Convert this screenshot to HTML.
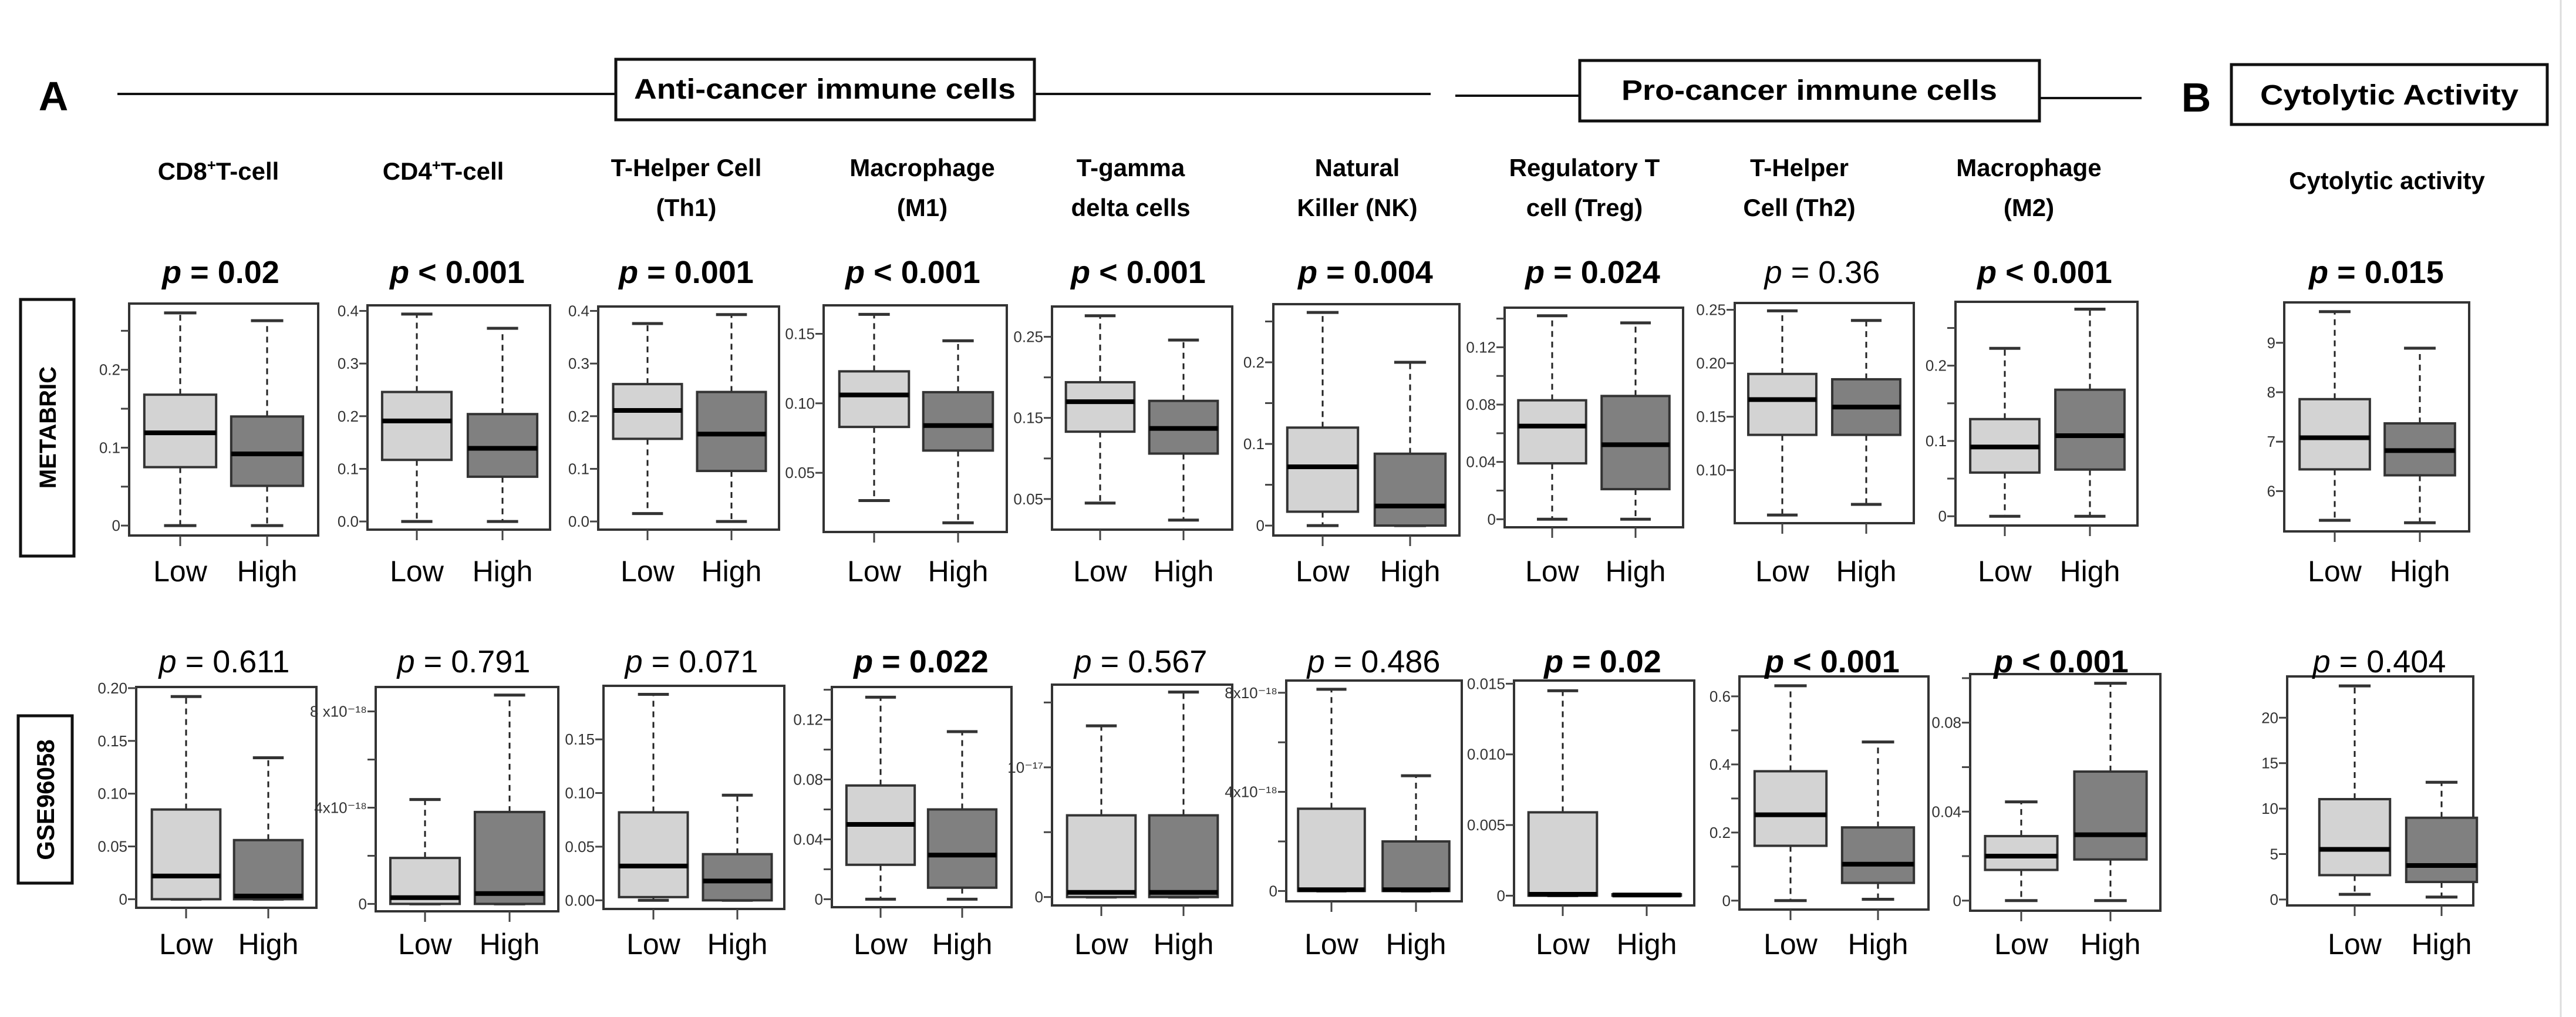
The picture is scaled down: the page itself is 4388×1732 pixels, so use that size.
<!DOCTYPE html>
<html>
<head>
<meta charset="utf-8">
<style>
  html, body { margin: 0; padding: 0; background: #fff; }
  svg { display: block; font-family: "Liberation Sans", sans-serif; }
</style>
</head>
<body>
<svg id="fig" width="4388" height="1732" viewBox="0 0 4388 1732" xmlns="http://www.w3.org/2000/svg">
  <rect x="0" y="0" width="4388" height="1732" fill="#fff"/>
  <line x1="4362" y1="0" x2="4362" y2="1732" stroke="#ddd" stroke-width="3"/>

  <text x="91" y="188" font-size="70" font-weight="bold" text-anchor="middle">A</text>
  <line x1="200" y1="160" x2="1049" y2="160" stroke="#111" stroke-width="4"/>
  <line x1="1762" y1="160" x2="2437" y2="160" stroke="#111" stroke-width="4"/>
  <rect x="1049" y="101" width="713" height="103" fill="#fff" stroke="#111" stroke-width="5"/>
  <text x="1405" y="168" font-size="48" font-weight="bold" text-anchor="middle" textLength="650" lengthAdjust="spacingAndGlyphs">Anti-cancer immune cells</text>

  <line x1="2479" y1="163" x2="2691" y2="163" stroke="#111" stroke-width="4"/>
  <line x1="3474" y1="167" x2="3648" y2="167" stroke="#111" stroke-width="4"/>
  <rect x="2691" y="103" width="783" height="103" fill="#fff" stroke="#111" stroke-width="5"/>
  <text x="3082" y="170" font-size="48" font-weight="bold" text-anchor="middle" textLength="640" lengthAdjust="spacingAndGlyphs">Pro-cancer immune cells</text>

  <text x="3741" y="190" font-size="70" font-weight="bold" text-anchor="middle">B</text>
  <rect x="3801" y="110" width="538" height="102" fill="#fff" stroke="#111" stroke-width="5"/>
  <text x="4070" y="178" font-size="48" font-weight="bold" text-anchor="middle" textLength="440" lengthAdjust="spacingAndGlyphs">Cytolytic Activity</text>

  <rect x="35" y="510" width="91" height="437" fill="#fff" stroke="#111" stroke-width="5"/>
  <text transform="translate(95,728) rotate(-90)" font-size="40" font-weight="bold" text-anchor="middle">METABRIC</text>
  <rect x="31" y="1219" width="92" height="285" fill="#fff" stroke="#111" stroke-width="5"/>
  <text transform="translate(92,1362) rotate(-90)" font-size="42" font-weight="bold" text-anchor="middle">GSE96058</text>

  <g id="headers"></g>
  <g id="charts"></g>
</svg>
<script>
// ---- data: column headers ----
const headerLine1 = ['CD8', 'CD4', 'T-Helper Cell', 'Macrophage', 'T-gamma', 'Natural', 'Regulatory T', 'T-Helper', 'Macrophage', 'Cytolytic activity'];
const headerLine2 = ['', '', '(Th1)', '(M1)', 'delta cells', 'Killer (NK)', 'cell (Treg)', 'Cell (Th2)', '(M2)', ''];

// ---- data: p-values ----
const metabricP = ['= 0.02', '< 0.001', '= 0.001', '< 0.001', '< 0.001', '= 0.004', '= 0.024', '= 0.36', '< 0.001', '= 0.015'];
const metabricPBold = [1, 1, 1, 1, 1, 1, 1, 0, 1, 1];
const gseP = ['= 0.611', '= 0.791', '= 0.071', '= 0.022', '= 0.567', '= 0.486', '= 0.02', '< 0.001', '< 0.001', '= 0.404'];
const gsePBold = [0, 0, 0, 1, 0, 0, 1, 1, 1, 0];

// ---- data: METABRIC five-number summaries [min, q1, median, q3, max] ----
const metabricLow = [
  [0, 0.075, 0.119, 0.168, 0.273],
  [0, 0.117, 0.191, 0.246, 0.394],
  [0.015, 0.157, 0.211, 0.261, 0.376],
  [0.030, 0.083, 0.106, 0.123, 0.164],
  [0.045, 0.133, 0.170, 0.194, 0.276],
  [0, 0.017, 0.072, 0.120, 0.261],
  [0, 0.039, 0.065, 0.083, 0.142],
  [0.058, 0.133, 0.166, 0.190, 0.249],
  [0, 0.058, 0.092, 0.129, 0.223],
  [5.41, 6.44, 7.08, 7.86, 9.63]
];
const metabricHigh = [
  [0, 0.051, 0.092, 0.140, 0.263],
  [0, 0.085, 0.139, 0.204, 0.367],
  [0, 0.096, 0.166, 0.246, 0.393],
  [0.014, 0.066, 0.084, 0.108, 0.145],
  [0.024, 0.106, 0.137, 0.171, 0.246],
  [0, 0, 0.024, 0.088, 0.200],
  [0, 0.021, 0.052, 0.086, 0.137],
  [0.068, 0.133, 0.159, 0.185, 0.240],
  [0, 0.062, 0.107, 0.168, 0.275],
  [5.36, 6.32, 6.82, 7.37, 8.89]
];

// ---- data: GSE96058 five-number summaries (CD4, T-gd, NK in units of 1e-18) ----
const gseLow = [
  [0, 0, 0.022, 0.085, 0.192],
  [0, 0, 0.26, 1.91, 4.34],
  [0, 0.003, 0.032, 0.082, 0.192],
  [0, 0.023, 0.050, 0.076, 0.135],
  [0, 0, 0.36, 6.3, 13.2],
  [0, 0, 0.05, 3.32, 8.14],
  [0, 0, 0.0001, 0.0059, 0.0145],
  [0, 0.161, 0.252, 0.380, 0.631],
  [0, 0.0138, 0.020, 0.029, 0.0444],
  [0.57, 2.68, 5.52, 11.04, 23.5]
];
const gseHigh = [
  [0, 0, 0.003, 0.056, 0.134],
  [0, 0, 0.43, 3.82, 8.68],
  [0, 0, 0.018, 0.043, 0.098],
  [0, 0.0077, 0.0295, 0.060, 0.112],
  [0, 0, 0.36, 6.3, 15.8],
  [0, 0, 0.05, 2.0, 4.65],
  [0, 0, 0.00005, 0.0001, 0.0001],
  [0.004, 0.052, 0.107, 0.215, 0.466],
  [0, 0.0185, 0.0296, 0.058, 0.0977],
  [0.27, 1.93, 3.74, 8.99, 12.9]
];

// ---- data: tick values and labels ----
const metabricTicks = [
  [0, 0.05, 0.1, 0.15, 0.2, 0.25],
  [0, 0.1, 0.2, 0.3, 0.4],
  [0, 0.1, 0.2, 0.3, 0.4],
  [0.05, 0.10, 0.15],
  [0.05, 0.1, 0.15, 0.2, 0.25],
  [0, 0.05, 0.1, 0.15, 0.2, 0.25],
  [0, 0.02, 0.04, 0.06, 0.08, 0.10, 0.12, 0.14],
  [0.10, 0.15, 0.20, 0.25],
  [0, 0.05, 0.1, 0.15, 0.2, 0.25],
  [6, 7, 8, 9]
];
const metabricTickLabels = [
  ['0', '', '0.1', '', '0.2', ''],
  ['0.0', '0.1', '0.2', '0.3', '0.4'],
  ['0.0', '0.1', '0.2', '0.3', '0.4'],
  ['0.05', '0.10', '0.15'],
  ['0.05', '', '0.15', '', '0.25'],
  ['0', '', '0.1', '', '0.2', ''],
  ['0', '', '0.04', '', '0.08', '', '0.12', ''],
  ['0.10', '0.15', '0.20', '0.25'],
  ['0', '', '0.1', '', '0.2', ''],
  ['6', '7', '8', '9']
];
const gseTicks = [
  [0, 0.05, 0.10, 0.15, 0.20],
  [0, 2, 4, 6, 8],
  [0, 0.05, 0.10, 0.15],
  [0, 0.02, 0.04, 0.06, 0.08, 0.10, 0.12, 0.14],
  [0, 5, 10, 15],
  [0, 2, 4, 6, 8],
  [0, 0.005, 0.010, 0.015],
  [0, 0.1, 0.2, 0.3, 0.4, 0.5, 0.6],
  [0, 0.02, 0.04, 0.06, 0.08, 0.10],
  [0, 5, 10, 15, 20]
];
const gseTickLabels = [
  ['0', '0.05', '0.10', '0.15', '0.20'],
  ['0', '', '4x10⁻¹⁸', '', '8 x10⁻¹⁸'],
  ['0.00', '0.05', '0.10', '0.15'],
  ['0', '', '0.04', '', '0.08', '', '0.12', ''],
  ['0', '', '10⁻¹⁷', ''],
  ['0', '', '4x10⁻¹⁸', '', '8x10⁻¹⁸'],
  ['0', '0.005', '0.010', '0.015'],
  ['0', '', '0.2', '', '0.4', '', '0.6'],
  ['0', '', '0.04', '', '0.08', ''],
  ['0', '5', '10', '15', '20']
];
const groupLabels = ['Low', 'High'];

// ---- layout (pixel geometry only) ----
const headerX = [372, 755, 1169, 1571, 1926, 2312, 2699, 3065, 3456, 4066];
const metabricPX = [376, 779, 1169, 1555, 1939, 2326, 2713, 3104, 3483, 4048];
const gsePX = [382, 790, 1178, 1569, 1943, 2340, 2730, 3121, 3511, 4053];
// frame [x0, x1, y0, y1], scale ref [v0, py0, v1, py1], centers [low, high]
const metabricLayout = [
  {f: [220, 542, 517, 912], s: [0, 895.1, 0.2, 629.7], c: [307, 455]},
  {f: [626, 937, 520, 902], s: [0, 888.1, 0.4, 529.5], c: [710, 856]},
  {f: [1019, 1327, 522, 902], s: [0, 888.1, 0.4, 529.5], c: [1103, 1246]},
  {f: [1403, 1715, 520, 906], s: [0.05, 805.2, 0.15, 568.5], c: [1489, 1632]},
  {f: [1792, 2099, 522, 902], s: [0.05, 849.8, 0.25, 573.6], c: [1874, 2016]},
  {f: [2169, 2486, 518, 912], s: [0, 895.1, 0.2, 617.0], c: [2253, 2402]},
  {f: [2563, 2867, 524, 898], s: [0, 884.3, 0.12, 591.4], c: [2644, 2786]},
  {f: [2955, 3260, 516, 891], s: [0.10, 800.7, 0.25, 527.6], c: [3036, 3179]},
  {f: [3331, 3641, 514, 895], s: [0, 879.2, 0.2, 622.7], c: [3415, 3560]},
  {f: [3891, 4206, 515, 905], s: [6, 836.4, 9, 583.8], c: [3977, 4122]}
];
const gseLayout = [
  {f: [232, 539, 1170, 1546], s: [0, 1531.4, 0.2, 1171.9], c: [317, 457]},
  {f: [640, 951, 1170, 1552], s: [0, 1539.4, 8, 1211.6], c: [724, 868]},
  {f: [1028, 1336, 1168, 1548], s: [0, 1533.3, 0.15, 1259.2], c: [1113, 1256]},
  {f: [1417, 1723, 1170, 1545], s: [0, 1531.4, 0.12, 1225.6], c: [1500, 1639]},
  {f: [1792, 2099, 1166, 1542], s: [0, 1527.7, 10, 1306.8], c: [1876, 2016]},
  {f: [2191, 2490, 1159, 1535], s: [0, 1517.4, 8, 1179.8], c: [2268, 2412]},
  {f: [2579, 2886, 1159, 1542], s: [0, 1525.4, 0.015, 1164.4], c: [2662, 2805]},
  {f: [2963, 3285, 1152, 1549], s: [0, 1533.8, 0.6, 1185.9], c: [3050, 3199]},
  {f: [3356, 3680, 1148, 1551], s: [0, 1533.8, 0.08, 1230.7], c: [3443, 3595]},
  {f: [3896, 4213, 1152, 1542], s: [0, 1531.9, 20, 1222.3], c: [4011, 4159]}
];

const NS = 'http://www.w3.org/2000/svg';
function mk(tag, attrs, parent) {
  const e = document.createElementNS(NS, tag);
  for (const k in attrs) e.setAttribute(k, attrs[k]);
  parent.appendChild(e);
  return e;
}
function yScale(s) {
  return v => s[1] + (v - s[0]) * (s[3] - s[1]) / (s[2] - s[0]);
}

// headers
const hg = document.getElementById('headers');
headerLine1.forEach((t, i) => {
  const twoLine = headerLine2[i] !== '';
  const y1 = i === 9 ? 322 : (twoLine ? 300 : 306);
  const tx = mk('text', {x: headerX[i], y: y1, 'font-size': 42, 'font-weight': 'bold', 'text-anchor': 'middle'}, hg);
  
  
  tx.textContent = t;
  if (i < 2) {
    const sup = mk('tspan', {'font-size': 26, dy: -16}, tx);
    sup.textContent = '+';
    const rest = mk('tspan', {dy: 16}, tx);
    rest.textContent = 'T-cell';
  }
  if (twoLine) {
    const t2 = mk('text', {x: headerX[i], y: 368, 'font-size': 42, 'font-weight': 'bold', 'text-anchor': 'middle'}, hg);
    
    
    t2.textContent = headerLine2[i];
  }
});

function drawP(parent, x, y, txt, bold) {
  const t = mk('text', {x: x, y: y, 'font-size': 54, 'font-weight': bold ? 'bold' : 'normal', 'text-anchor': 'middle'}, parent);
  
  
  const p = mk('tspan', {'font-style': 'italic'}, t);
  p.textContent = 'p';
  const r = mk('tspan', {}, t);
  r.textContent = ' ' + txt;
}

function drawBox(g, cx, bw, stats, y, fill, name) {
  const [mn, q1, md, q3, mx] = stats;
  const capW = bw * 0.45;
  const wl = mk('line', {x1: cx, x2: cx, y1: y(q3), y2: y(mx), stroke: '#222', 'stroke-width': 3, 'stroke-dasharray': '10,8'}, g);
  
  
  const wl2 = mk('line', {x1: cx, x2: cx, y1: y(q1), y2: y(mn), stroke: '#222', 'stroke-width': 3, 'stroke-dasharray': '10,8'}, g);
  
  
  const c1 = mk('line', {x1: cx - capW / 2, x2: cx + capW / 2, y1: y(mx), y2: y(mx), stroke: '#333', 'stroke-width': 5}, g);
  
  
  const c2 = mk('line', {x1: cx - capW / 2, x2: cx + capW / 2, y1: y(mn), y2: y(mn), stroke: '#333', 'stroke-width': 5}, g);
  
  
  const h = Math.max(2, y(q1) - y(q3));
  const r = mk('rect', {x: cx - bw / 2, y: y(q3), width: bw, height: h, fill: fill, stroke: '#333', 'stroke-width': 4}, g);
  
  
  const m = mk('line', {x1: cx - bw / 2, x2: cx + bw / 2, y1: y(md), y2: y(md), stroke: '#000', 'stroke-width': 8}, g);
  
  
}

function drawRow(layout, lows, highs, ticks, tickLabels, pTexts, pBold, pX, pY, labelY, rowName) {
  const cg = document.getElementById('charts');
  layout.forEach((L, i) => {
    const g = mk('g', {}, cg);
    
    
    const [x0, x1, y0, y1] = L.f;
    const y = yScale(L.s);
    const fr = mk('rect', {x: x0, y: y0, width: x1 - x0, height: y1 - y0, fill: '#fff', stroke: '#333', 'stroke-width': 4}, g);
    
    
    // y ticks
    ticks[i].forEach((v, k) => {
      const ty = y(v);
      const tl = mk('line', {x1: x0 - 14, x2: x0, y1: ty, y2: ty, stroke: '#444', 'stroke-width': 3}, g);
      
      
      const lab = tickLabels[i][k];
      if (lab) {
        const tx = mk('text', {x: x0 - 15, y: ty + 9, 'font-size': 26, fill: '#333', 'text-anchor': 'end'}, g);
        
        
        tx.textContent = lab;
      }
    });
    const bw = (x1 - x0) * 0.38;
    drawBox(g, L.c[0], bw, lows[i], y, '#d3d3d3', 'low');
    drawBox(g, L.c[1], bw, highs[i], y, '#808080', 'high');
    L.c.forEach((cx, k) => {
      const xt = mk('line', {x1: cx, x2: cx, y1: y1, y2: y1 + 18, stroke: '#444', 'stroke-width': 3}, g);
      
      
      const lt = mk('text', {x: cx, y: labelY, 'font-size': 50, 'text-anchor': 'middle'}, g);
      
      
      lt.textContent = groupLabels[k];
    });
    drawP(g, pX[i], pY, pTexts[i], pBold[i]);
  });
}

drawRow(metabricLayout, metabricLow, metabricHigh, metabricTicks, metabricTickLabels, metabricP, metabricPBold, metabricPX, 482, 990, 'metabric');
drawRow(gseLayout, gseLow, gseHigh, gseTicks, gseTickLabels, gseP, gsePBold, gsePX, 1145, 1625, 'gse96058');
</script>
</body>
</html>
